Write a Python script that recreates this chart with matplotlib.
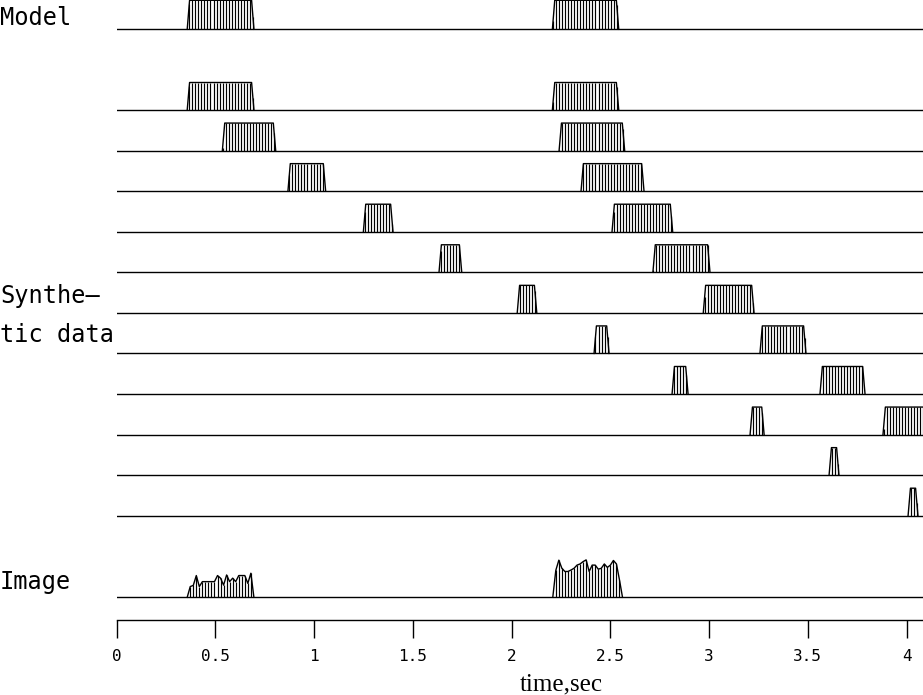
import numpy as np
import matplotlib
matplotlib.use("Agg")
import matplotlib.pyplot as plt

# event windows (start, end) in seconds
model_events = [(0.358, 0.696), (2.207, 2.543)]

synth_events = [
    [(0.358, 0.696), (2.207, 2.543)],
    [(0.536, 0.806), (2.241, 2.573)],
    [(0.868, 1.059), (2.352, 2.671)],
    [(1.250, 1.400), (2.509, 2.816)],
    [(1.633, 1.748), (2.716, 3.005)],
    [(2.029, 2.128), (2.971, 3.228)],
    [(2.418, 2.494), (3.258, 3.491)],
    [(2.813, 2.894), (3.562, 3.790)],
    [(3.208, 3.279), (3.881, 4.120)],
    [(3.608, 3.658)],
    [(4.008, 4.058)],
]

# image trace: start time of each burst and sample amplitudes (model peak = 1)
image_starts = [0.358, 2.209]
image_amps = [
    [0, .37, .41, .75, .37, .54, .54, .54, .54, .54, .75, .66,
     .42, .77, .54, .66, .54, .75, .75, .75, .48, .83, 0],
    [0, .93, 1.28, 1.0, .89, .89, .94, 1.0, 1.11, 1.15, 1.23, 1.29,
     .89, 1.11, 1.11, .97, 1.0, 1.15, 1.03, 1.11, 1.27, 1.15, .6, 0],
]

dt = 0.01535      # sample interval
ramp = 0.012      # taper at box edges
tick_vals = [0, 0.5, 1, 1.5, 2, 2.5, 3, 3.5, 4]
tick_labels = ["0", "0.5", "1", "1.5", "2", "2.5", "3", "3.5", "4"]

W, H = 923, 695
fig = plt.figure(figsize=(W / 100, H / 100), dpi=100)
x0 = 116.5
ax = fig.add_axes([x0 / W, 75 / H, (W - x0) / W, 620 / H])
ax.set_xlim(0, (W - x0) / 197.5)
ax.set_ylim(620, 0)   # y in pixel rows, top down

grid = np.arange(0, 4.2, dt)


def draw_boxes(base, events, gain):
    ax.axhline(base, color="k", lw=1.0)
    for t0, t1 in events:
        tt = [t0, t0 + ramp, t1 - ramp, t1]
        aa = [0, 1, 1, 0]
        ax.plot(tt, base - gain * np.array(aa), color="k", lw=1.0)
        ts = grid[(grid > t0) & (grid < t1)]
        ax.vlines(ts, base, base - gain * np.interp(ts, tt, aa), color="k", lw=0.85)


# model
draw_boxes(29.3, model_events, 29)

# synthetic data
for i, ev in enumerate(synth_events):
    draw_boxes(110 + i * 40.57, ev, 27.5)

# image
base = 597.3
ax.axhline(base, color="k", lw=1.0)
for t0, amps in zip(image_starts, image_amps):
    amps = np.array(amps)
    ts = t0 + dt * np.arange(len(amps))
    ax.plot(ts, base - 29 * amps, color="k", lw=1.0)
    ax.vlines(ts, base, base - 29 * amps, color="k", lw=0.85)

for s in ["top", "left", "right"]:
    ax.spines[s].set_visible(False)
ax.spines["bottom"].set_linewidth(1.0)
ax.set_yticks([])
ax.set_xticks(tick_vals)
ax.set_xticklabels(tick_labels, family="DejaVu Sans Mono", fontsize=11.5)
ax.tick_params(axis="x", direction="out", length=13, width=1.0, pad=8)

fig.text(561 / W, 1 - 690 / H, "time,sec", family="Liberation Serif",
         fontsize=18, ha="center", va="baseline")

lab = dict(family="DejaVu Sans Mono", fontsize=17, ha="left", va="baseline")
fig.text(0, 1 - 25 / H, "Model", **lab)
fig.text(0, 1 - 303 / H, "Synthe\u2013", **lab)
fig.text(0, 1 - 342 / H, "tic data", **lab)
fig.text(0, 1 - 589 / H, "Image", **lab)

fig.savefig("out.png", dpi=100)
